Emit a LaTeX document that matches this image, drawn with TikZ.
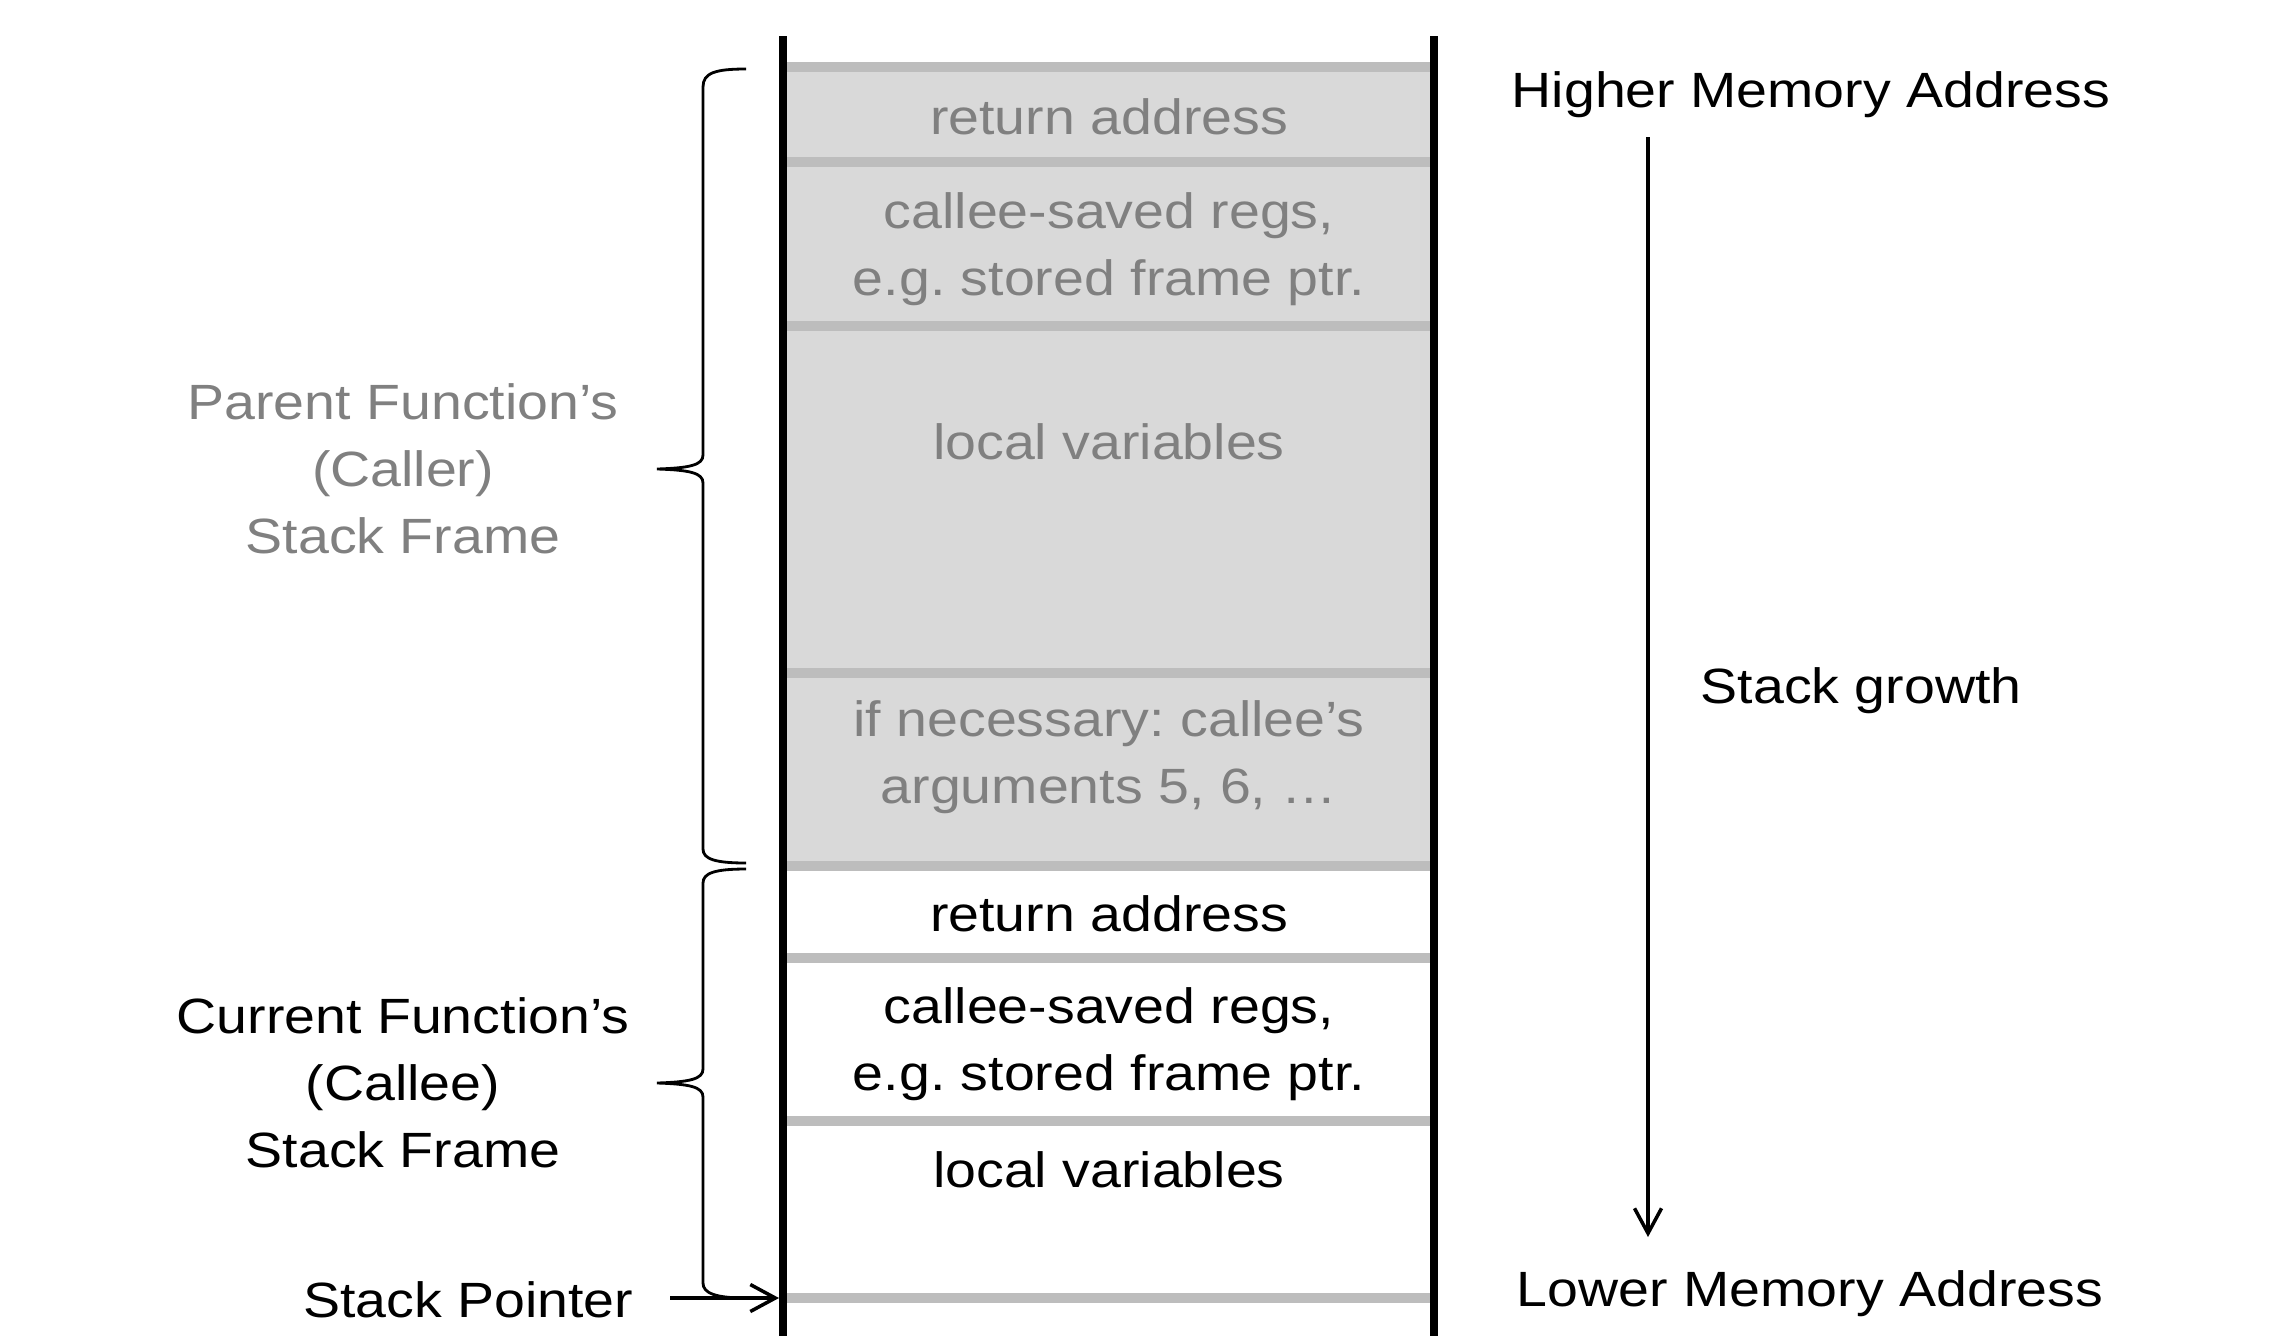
\documentclass[tikz,border=0pt]{standalone}
\usepackage{fontspec}
\setmainfont[FakeStretch=1.12]{Liberation Sans}
\usetikzlibrary{arrows.meta}

\begin{document}
\frenchspacing
\begin{tikzpicture}[
    frametext/.style={font=\fontsize{14.1}{19.07}\selectfont,align=center,inner sep=0pt},
    oldtext/.style={frametext,text=black!50},
    wall/.style={line width=2.1pt},
    slot/.style={line width=2.6pt,draw=black!26},
    growarrow/.style={line width=1pt,-{Straight Barb[length=0.25cm,width=0.27cm]}},
    bracket/.style={line width=0.8pt}]
    \useasboundingbox (0,0) rectangle (22.81,13.35);

    % caller frame
    \fill[black!15] (7.83,12.68) rectangle (14.34,4.69);
    \draw[slot] (7.83,12.68) -- (14.34,12.68)
    (7.83,11.73) -- (14.34,11.73)
    (7.83,10.09) -- (14.34,10.09)
    (7.83,6.62) -- (14.34,6.62)
    (7.83,4.69) -- (14.34,4.69)
    (7.83,3.77) -- (14.34,3.77)
    (7.83,2.14) -- (14.34,2.14)
    (7.83,0.37) -- (14.34,0.37);
    \draw[wall] (7.83,12.99) -- (7.83,-0.05) (14.34,12.99) -- (14.34,-0.05);

    \node[oldtext,anchor=base] (ret1) at (11.09,12.01) {return address};
    \node[oldtext] (saved1) at (11.09,10.86) {callee-saved regs,\\e.g. stored frame ptr.};
    \node[oldtext,anchor=base] (locals1) at (11.09,8.76) {local variables};
    \node[oldtext] (args1) at (11.09,5.78) {if necessary: callee’s\\arguments 5, 6, …};

    % callee frame
    \node[frametext,anchor=base] (ret2) at (11.09,4.04) {return address};
    \node[frametext] (saved2) at (11.09,2.91) {callee-saved regs,\\e.g. stored frame ptr.};
    \node[frametext,anchor=base] (locals2) at (11.09,1.48) {local variables};

    % braces
    \draw[bracket] (7.46,12.66) .. controls (7.15,12.66) and (7.03,12.62) .. (7.03,12.48)
    -- (7.03,8.80) .. controls (7.03,8.70) and (6.90,8.67) .. (6.57,8.66)
    .. controls (6.90,8.65) and (7.03,8.62) .. (7.03,8.52)
    -- (7.03,4.86) .. controls (7.03,4.76) and (7.15,4.72) .. (7.46,4.72);
    \draw[bracket] (7.46,4.66) .. controls (7.15,4.66) and (7.03,4.62) .. (7.03,4.52)
    -- (7.03,2.66) .. controls (7.03,2.56) and (6.90,2.53) .. (6.57,2.52)
    .. controls (6.90,2.51) and (7.03,2.48) .. (7.03,2.38)
    -- (7.03,0.52) .. controls (7.03,0.42) and (7.15,0.37) .. (7.46,0.37);

    \node[oldtext] (parent) at (4.03,8.66) {Parent Function’s\\(Caller)\\Stack Frame};
    \node[frametext] (current) at (4.03,2.52) {Current Function’s\\(Callee)\\Stack Frame};

    % stack pointer
    \node[frametext,anchor=base east] (sp) at (6.34,0.18) {Stack Pointer};
    \coordinate (sptail) at (6.70,0.37);
    \coordinate (sphead) at (7.79,0.37);
    \draw[growarrow] (sptail) -- (sphead);

    % addresses
    \node[frametext,anchor=base] (high) at (18.11,12.28) {Higher Memory Address};
    \node[frametext,anchor=base] (low) at (18.10,0.29) {Lower Memory Address};
    \node[frametext,anchor=base west] (growth) at (17.00,6.32) {Stack growth};
    \coordinate (growtop) at (16.48,11.98);
    \coordinate (growbot) at (16.48,0.98);
    \draw[growarrow] (growtop) -- (growbot);

\end{tikzpicture}
\end{document}
